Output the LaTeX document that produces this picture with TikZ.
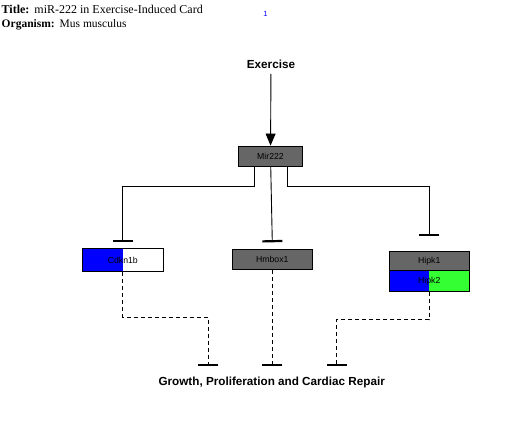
\documentclass[tikz,border=0pt]{standalone}
\usepackage{fontspec}
\setmainfont{Liberation Serif}
\setsansfont{Liberation Sans}
\usetikzlibrary{positioning,arrows.meta}

\definecolor{genegray}{HTML}{666666}
\definecolor{geneblue}{HTML}{0000FF}
\definecolor{genegreen}{HTML}{33FF33}

\begin{document}
\begin{tikzpicture}[x=1pt, y=-1pt,
  gene/.style = {draw, rectangle, line width=0.9pt, fill=genegray, inner sep=0pt, minimum width=80pt, minimum height=20pt, font=\sffamily\fontsize{8.7}{10}\selectfont},
  tag/.style = {inner sep=0pt, font=\sffamily\bfseries\fontsize{11.7}{13}\selectfont},
  head/.style = {anchor=base west, inner sep=0pt, font=\fontsize{11.5}{13}\selectfont},
  inhibit/.style = {-{Bar[width=20pt,line width=2.2pt]}, line width=0.9pt},
  dashinhibit/.style = {inhibit, dash pattern=on 4pt off 3pt}]
\useasboundingbox (0,0) rectangle (507,422);

% header
\begin{scope}
\clip (0,0) rectangle (202,20);
\node[head, font=\fontsize{12}{13}\selectfont] (title) at (1.5,13.5) {\textbf{Title:}\hspace{5pt}miR-222 in Exercise-Induced Card};
\end{scope}
\node[head] (organism) at (1.5,27.5) {\textbf{Organism:}\hspace{5pt}Mus musculus};
\node[inner sep=0pt, text=geneblue, font=\sffamily\fontsize{7.5}{8}\selectfont] (page) at (265.5,14) {1};

% nodes
\node[tag] (exercise) at (271,64.5) {Exercise};
\node[gene, minimum width=64.5pt] (mir) at (270.5,156) {Mir222};
\node[gene, fill=white, minimum width=81pt, minimum height=22.7pt,
  path picture={\fill[geneblue] (path picture bounding box.north west) rectangle (path picture bounding box.south);}] (cdkn) at (122.8,260.3) {Cdkn1b};
\node[gene, minimum height=20.7pt] (hmbox) at (272.3,259.6) {Hmbox1};
\node[gene, minimum height=19.3pt] (hipk1) at (429.3,261.3) {Hipk1};
\node[gene, below=-0.9pt of hipk1, minimum height=20.3pt,
  path picture={\fill[geneblue] (path picture bounding box.north west) rectangle (path picture bounding box.south);
    \fill[genegreen] (path picture bounding box.north) rectangle (path picture bounding box.south east);}] (hipk2) {Hipk2};
\node[tag] (growth) at (271.7,382) {Growth, Proliferation and Cardiac Repair};

\coordinate (g1) at (208.3,366);
\coordinate (g2) at (272.3,366);
\coordinate (g3) at (336.7,366);

% connectors
\draw[line width=0.9pt, -{Triangle[width=10pt,length=12pt]}, shorten <=5pt] (exercise) -- (mir);
\draw[inhibit] ([xshift=-16pt]mir.south) -- ++(0,20) -| ([yshift=6.5pt]cdkn.north);
\draw[inhibit] (mir) -- ([yshift=6.5pt]hmbox.north);
\draw[inhibit] ([xshift=17pt]mir.south) -- ++(0,20) -| ([yshift=15pt]hipk1.north);

\draw[dashinhibit] (cdkn.south) -- ++(0,45) -| (g1);
\draw[dashinhibit] (hmbox) -- (g2);
\draw[dashinhibit] (hipk2.south) -- ++(0,28) -| (g3);

\end{tikzpicture}
\end{document}
